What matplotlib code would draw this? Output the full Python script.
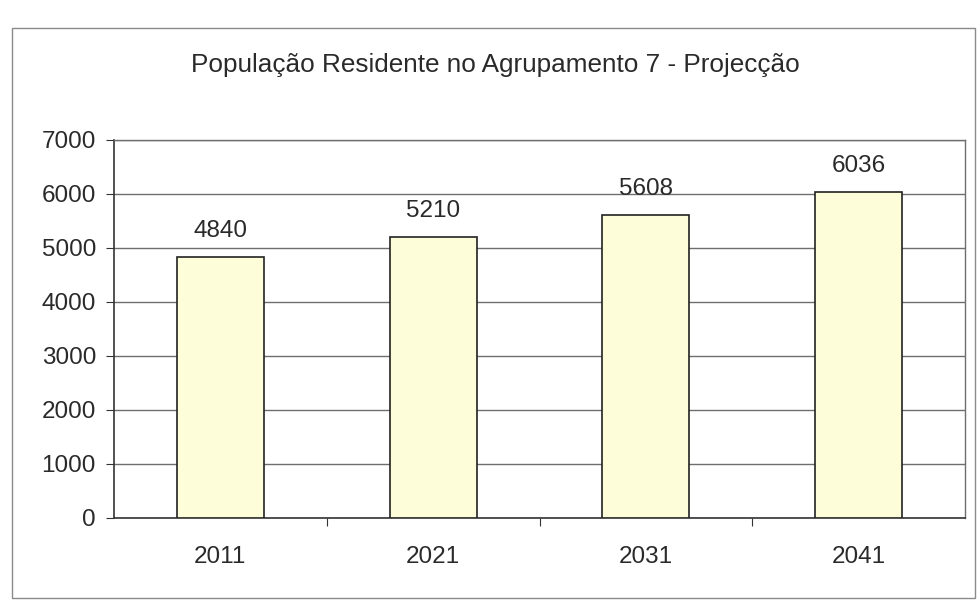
import matplotlib
matplotlib.use("Agg")
import matplotlib.pyplot as plt
from matplotlib.patches import Rectangle

years = ["2011", "2021", "2031", "2041"]
population = [4840, 5210, 5608, 6036]
y_ticks = [0, 1000, 2000, 3000, 4000, 5000, 6000, 7000]
title = "População Residente no Agrupamento 7 - Projecção"

plt.rcParams['font.family'] = ['Liberation Sans', 'DejaVu Sans']

W, H = 980, 600
fig = plt.figure(figsize=(W/100, H/100), dpi=100)

# outer chart border
fig.patches.append(Rectangle((12/W, 2/H), (975-12)/W, (598-28)/H, transform=fig.transFigure,
                             fill=False, edgecolor='#8a8a8a', linewidth=1.0))

ax_l, ax_r, ax_t, ax_b = 114, 965, 140, 518
ax = fig.add_axes([ax_l/W, 1-ax_b/H, (ax_r-ax_l)/W, (ax_b-ax_t)/H])

x = range(len(years))
ax.bar(x, population, width=0.41, color='#fdfdd9', edgecolor='#222222', linewidth=1.2, zorder=3)
for xi, v in zip(x, population):
    ax.text(xi, v + 280, str(v), ha='center', va='bottom', fontsize=17.5, color='#2a2a2a')

ax.set_xlim(-0.5, len(years)-0.5)
ax.set_ylim(0, 7000)
ax.set_yticks(y_ticks)
ax.set_yticklabels([str(t) for t in y_ticks], fontsize=17.5, color='#2a2a2a')
ax.yaxis.grid(True, color='#6e6e6e', linewidth=1.0, zorder=0)
ax.set_axisbelow(True)

ax.set_xticks([i + 0.5 for i in range(len(years)-1)])
ax.set_xticklabels([])
ax.set_xticks(list(x), minor=True)
ax.set_xticklabels(years, minor=True, fontsize=17.5, color='#2a2a2a')
ax.tick_params(axis='x', which='minor', length=0, pad=20)
ax.tick_params(axis='x', which='major', length=6, color='#333333', direction='out')
ax.tick_params(axis='y', length=6, color='#333333', direction='out', pad=7)

for s in ['left', 'bottom']:
    ax.spines[s].set_color('#333333')
    ax.spines[s].set_linewidth(1.2)
for s in ['right', 'top']:
    ax.spines[s].set_color('#6e6e6e')
    ax.spines[s].set_linewidth(1.0)

fig.text(495/W, 1-65/H, title, ha='center', va='center', fontsize=18.8, color='#2a2a2a')

fig.savefig("out.png", dpi=100)
